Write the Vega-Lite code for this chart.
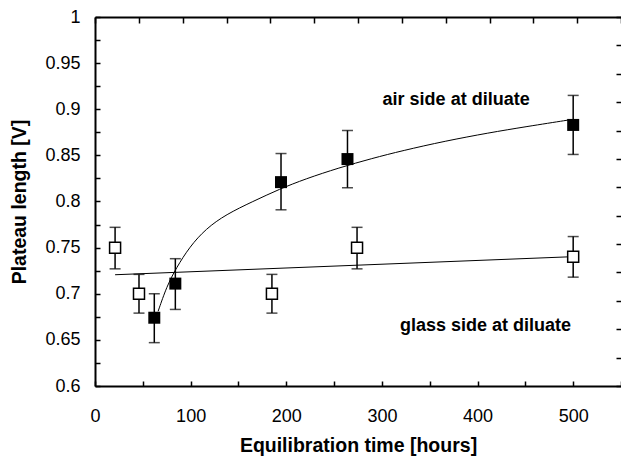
{
  "$schema": "https://vega.github.io/schema/vega-lite/v6.json",
  "width": 526,
  "height": 369,
  "autosize": {"type": "none"},
  "padding": {"left": 95, "top": 17, "right": 0, "bottom": 72},
  "config": {
    "view": {"stroke": null},
    "font": "Liberation Sans",
    "axis": {
      "grid": false,
      "domainColor": "black",
      "domainWidth": 2,
      "tickColor": "black",
      "tickWidth": 1.5,
      "labelColor": "black",
      "labelFont": "Liberation Sans",
      "labelFontSize": 18,
      "labelFlush": false,
      "labelOverlap": false,
      "titleColor": "black",
      "titleFont": "Liberation Sans",
      "titleFontSize": 19.5,
      "titleFontWeight": "bold"
    }
  },
  "datasets": {
    "air": [
      {"t": 62, "v": 0.674, "lo": 0.647, "hi": 0.700},
      {"t": 84, "v": 0.711, "lo": 0.683, "hi": 0.738},
      {"t": 194.5, "v": 0.821, "lo": 0.791, "hi": 0.852},
      {"t": 264, "v": 0.846, "lo": 0.815, "hi": 0.877},
      {"t": 500, "v": 0.883, "lo": 0.851, "hi": 0.915}
    ],
    "glass": [
      {"t": 21, "v": 0.750, "lo": 0.727, "hi": 0.772},
      {"t": 46, "v": 0.700, "lo": 0.679, "hi": 0.721},
      {"t": 185, "v": 0.700, "lo": 0.679, "hi": 0.721},
      {"t": 274, "v": 0.750, "lo": 0.727, "hi": 0.772},
      {"t": 500, "v": 0.740, "lo": 0.718, "hi": 0.762}
    ],
    "airfit": [
      {"t": 66, "v": 0.681},
      {"t": 75, "v": 0.708},
      {"t": 85, "v": 0.728},
      {"t": 99, "v": 0.751},
      {"t": 116, "v": 0.7705},
      {"t": 137, "v": 0.786},
      {"t": 165, "v": 0.800},
      {"t": 193, "v": 0.8135},
      {"t": 220, "v": 0.8245},
      {"t": 255, "v": 0.8365},
      {"t": 290, "v": 0.8468},
      {"t": 321, "v": 0.855},
      {"t": 366, "v": 0.8655},
      {"t": 412, "v": 0.8745},
      {"t": 450, "v": 0.881},
      {"t": 498, "v": 0.8888}
    ],
    "glassfit": [
      {"t": 21, "v": 0.7206},
      {"t": 500, "v": 0.7402}
    ],
    "notes": [
      {"t": 377.6, "v": 0.9104, "label": "air side at diluate"},
      {"t": 408.3, "v": 0.6646, "label": "glass side at diluate"}
    ]
  },
  "layer": [
    {
      "data": {"name": "glassfit"},
      "mark": {"type": "line", "color": "black", "strokeWidth": 1},
      "encoding": {
        "x": {
          "field": "t", "type": "quantitative",
          "scale": {"domain": [0, 550], "nice": false, "zero": false},
          "axis": {
            "orient": "bottom",
            "values": [0, 50, 100, 150, 200, 250, 300, 350, 400, 450, 500, 550],
            "labelExpr": "datum.value % 100 === 0 ? datum.label : ''",
            "tickSize": -5,
            "labelPadding": 26,
            "title": "Equilibration time [hours]",
            "titlePadding": 11
          }
        },
        "y": {
          "field": "v", "type": "quantitative",
          "scale": {"domain": [0.6, 1], "nice": false, "zero": false},
          "axis": {
            "orient": "left",
            "values": [0.6, 0.625, 0.65, 0.675, 0.7, 0.725, 0.75, 0.775, 0.8, 0.825, 0.85, 0.875, 0.9, 0.925, 0.95, 0.975, 1],
            "format": "~g",
            "labelExpr": "round(datum.value * 1000) % 50 === 0 ? datum.label : ''",
            "tickSize": -5,
            "labelPadding": 20,
            "title": "Plateau length [V]",
            "titlePadding": 15
          }
        }
      }
    },
    {
      "data": {"name": "airfit"},
      "mark": {"type": "line", "color": "black", "strokeWidth": 1, "interpolate": "basis"},
      "encoding": {
        "x": {
          "field": "t", "type": "quantitative",
          "axis": {
            "orient": "top",
            "values": [0, 45.833, 91.667, 137.5, 183.333, 229.167, 275, 320.833, 366.667, 412.5, 458.333, 504.167, 550],
            "labels": false,
            "tickSize": -6,
            "title": null
          }
        },
        "y": {
          "field": "v", "type": "quantitative",
          "axis": {
            "orient": "right",
            "values": [0.6, 0.63077, 0.66154, 0.69231, 0.72308, 0.75385, 0.78462, 0.81538, 0.84615, 0.87692, 0.90769, 0.93846, 0.96923, 1],
            "labels": false,
            "domain": false,
            "tickSize": -5,
            "title": null
          }
        }
      }
    },
    {
      "data": {"name": "air"},
      "mark": {"type": "errorbar", "rule": {"color": "black", "strokeWidth": 1.5}, "ticks": {"color": "black", "size": 11, "thickness": 1.5}},
      "encoding": {
        "x": {"field": "t", "type": "quantitative", "axis": null},
        "y": {"field": "lo", "type": "quantitative", "axis": null},
        "y2": {"field": "hi"}
      }
    },
    {
      "data": {"name": "glass"},
      "mark": {"type": "errorbar", "rule": {"color": "black", "strokeWidth": 1.5}, "ticks": {"color": "black", "size": 11, "thickness": 1.5}},
      "encoding": {
        "x": {"field": "t", "type": "quantitative", "axis": null},
        "y": {"field": "lo", "type": "quantitative", "axis": null},
        "y2": {"field": "hi"}
      }
    },
    {
      "data": {"name": "air"},
      "mark": {"type": "point", "shape": "square", "filled": true, "color": "black", "size": 144, "opacity": 1},
      "encoding": {
        "x": {"field": "t", "type": "quantitative", "axis": null},
        "y": {"field": "v", "type": "quantitative", "axis": null}
      }
    },
    {
      "data": {"name": "glass"},
      "mark": {"type": "point", "shape": "square", "filled": false, "fill": "white", "fillOpacity": 1, "stroke": "black", "strokeWidth": 1.5, "size": 121, "opacity": 1},
      "encoding": {
        "x": {"field": "t", "type": "quantitative", "axis": null},
        "y": {"field": "v", "type": "quantitative", "axis": null}
      }
    },
    {
      "data": {"name": "notes"},
      "mark": {"type": "text", "font": "Liberation Sans", "fontWeight": "bold", "fontSize": 18, "color": "black", "align": "center", "baseline": "middle"},
      "encoding": {
        "x": {"field": "t", "type": "quantitative", "axis": null},
        "y": {"field": "v", "type": "quantitative", "axis": null},
        "text": {"field": "label"}
      }
    }
  ],
  "resolve": {"axis": {"x": "independent", "y": "independent"}}
}
